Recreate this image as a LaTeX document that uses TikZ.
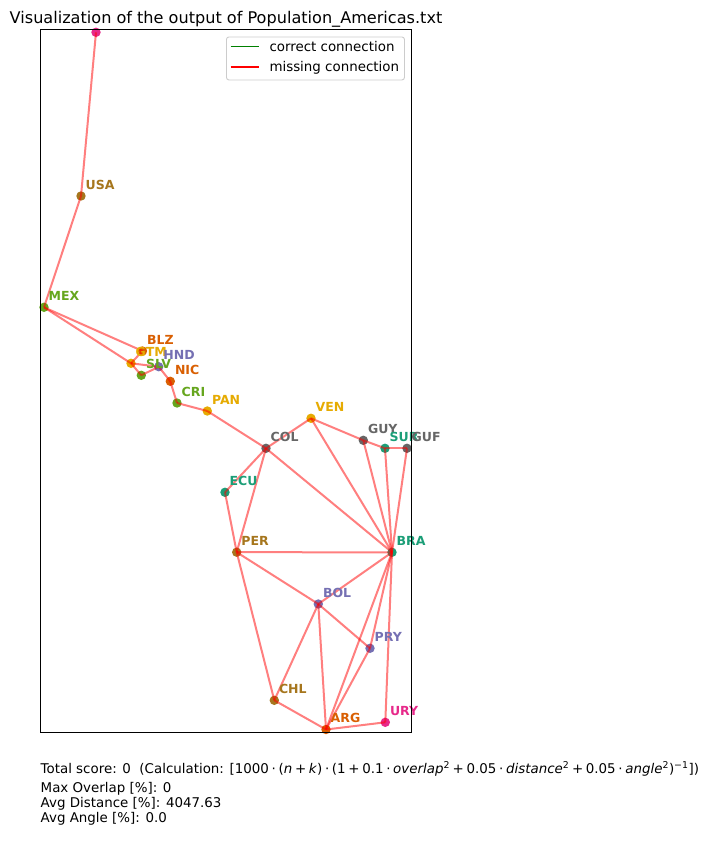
\documentclass[tikz,border=0pt]{standalone}
\usepackage{fontspec}
\setmainfont{DejaVu Sans}
\definecolor{cteal}{HTML}{1B9E77}
\definecolor{corange}{HTML}{D95F02}
\definecolor{cpurple}{HTML}{7570B3}
\definecolor{cmagenta}{HTML}{E7298A}
\definecolor{cgreen}{HTML}{66A61E}
\definecolor{cyellow}{HTML}{E6AB02}
\definecolor{cbrown}{HTML}{A6761D}
\definecolor{cgray}{HTML}{666666}
\definecolor{legendframe}{HTML}{CCCCCC}
\definecolor{mplgreen}{RGB}{0,128,0}
\newcommand{\opdot}{\hspace{0.2em}·\hspace{0.2em}}
\newcommand{\opplus}{\hspace{0.2em}+\hspace{0.2em}}
\begin{document}
\begin{tikzpicture}[x=1pt,y=-1pt,
  country/.style={circle,fill=#1,inner sep=0pt,minimum size=9.4pt},
  lab/.style={text=#1,font=\fontsize{12.5}{14}\selectfont\bfseries,anchor=base west,inner sep=0pt},
  edge/.style={red,opacity=0.5,line width=2pt},
  legtext/.style={font=\fontsize{13.4}{16}\selectfont,anchor=base west,inner sep=0pt},
  info/.style={font=\fontsize{13.4}{16}\selectfont,anchor=base west,inner sep=0pt}]
\useasboundingbox (0,0) rectangle (706,849);
\fill[white] (0,0) rectangle (706,849);

% countries
\foreach \n/\x/\y/\c in {
  CAN/96/32.3/cmagenta, USA/81/196/cbrown, MEX/44/307.3/cgreen,
  BLZ/142.5/351/corange, GTM/131/363.3/cyellow, SLV/141.3/375.3/cgreen,
  HND/158.7/366.7/cpurple, NIC/170.3/381.3/corange, CRI/177/403/cgreen,
  PAN/207.3/411/cyellow, COL/266/448.3/cgray, VEN/311/418.3/cyellow,
  GUY/363.3/440.3/cgray, SUR/385/448.3/cteal, GUF/407/448.3/cgray,
  ECU/225/492.3/cteal, PER/236.7/552.2/cbrown, BRA/392/552.3/cteal,
  BOL/318.3/604/cpurple, PRY/370/648.3/cpurple, CHL/274.3/700.3/cbrown,
  ARG/326/729.5/corange, URY/385.3/722.3/cmagenta}
  \node[country=\c] (\n) at (\x,\y) {};

% connections
\foreach \a/\b in {CAN/USA, USA/MEX, MEX/BLZ, MEX/GTM, BLZ/GTM, GTM/HND, GTM/SLV,
  SLV/HND, HND/NIC, NIC/CRI, CRI/PAN, PAN/COL, COL/VEN, COL/ECU, COL/PER, COL/BRA,
  VEN/GUY, VEN/BRA, GUY/SUR, GUY/BRA, SUR/GUF, SUR/BRA, GUF/BRA, ECU/PER, PER/BRA,
  PER/BOL, PER/CHL, BOL/BRA, BOL/PRY, BOL/CHL, BOL/ARG, PRY/ARG, BRA/PRY, BRA/ARG,
  BRA/URY, CHL/ARG, ARG/URY}
  \draw[edge] (\a.center) -- (\b.center);

% labels
\foreach \n/\c in {USA/cbrown, MEX/cgreen, BLZ/corange, GTM/cyellow, SLV/cgreen,
  HND/cpurple, NIC/corange, CRI/cgreen, PAN/cyellow, COL/cgray, VEN/cyellow,
  GUY/cgray, SUR/cteal, GUF/cgray, ECU/cteal, PER/cbrown, BRA/cteal, BOL/cpurple,
  PRY/cpurple, CHL/cbrown, ARG/corange, URY/cmagenta}
  \node[lab=\c] (l\n) at ([xshift=4.5pt,yshift=7pt]\n.center) {\n};

% axes frame
\draw[line width=1.07pt] (40.7,29.3) rectangle (411.5,732.7);

% title
\node[font=\fontsize{16.1}{19}\selectfont,anchor=base,inner sep=0pt] (title) at (226,23.5)
  {Visualization of the output of Population\_Americas.txt};

% legend
\node[draw=legendframe,line width=0.9pt,fill=white,fill opacity=0.8,rounded corners=2.5pt,
  minimum width=178pt,minimum height=43pt,anchor=north west,inner sep=0pt] (legend) at (226,36.5) {};
\coordinate (g1) at (230.7,46.7);
\coordinate (g2) at (259,46.7);
\coordinate (r1) at (230.7,66.8);
\coordinate (r2) at (259,66.8);
\draw[mplgreen,line width=1.5pt] (g1) -- (g2);
\draw[red,line width=1.5pt] (r1) -- (r2);
\node[legtext] (lcorrect) at (269.3,51.6) {correct connection};
\node[legtext] (lmissing) at (269.3,71.6) {missing connection};

% info text
\node[info] (score) at (40.5,773.5) {Total score: 0\ \ (Calculation: [1000\opdot(\textit{n}\opplus\textit{k})\opdot(1\opplus0.1\opdot\textit{overlap}\textsuperscript{2}\opplus0.05\opdot\textit{distance}\textsuperscript{2}\opplus0.05\opdot\textit{angle}\textsuperscript{2})\textsuperscript{−1}])};
\node[info] (overlap) at (40.5,792.3) {Max Overlap [\%]: 0};
\node[info] (dist) at (40.5,807.3) {Avg Distance [\%]: 4047.63};
\node[info] (angle) at (40.5,822.3) {Avg Angle [\%]: 0.0};
\end{tikzpicture}
\end{document}
